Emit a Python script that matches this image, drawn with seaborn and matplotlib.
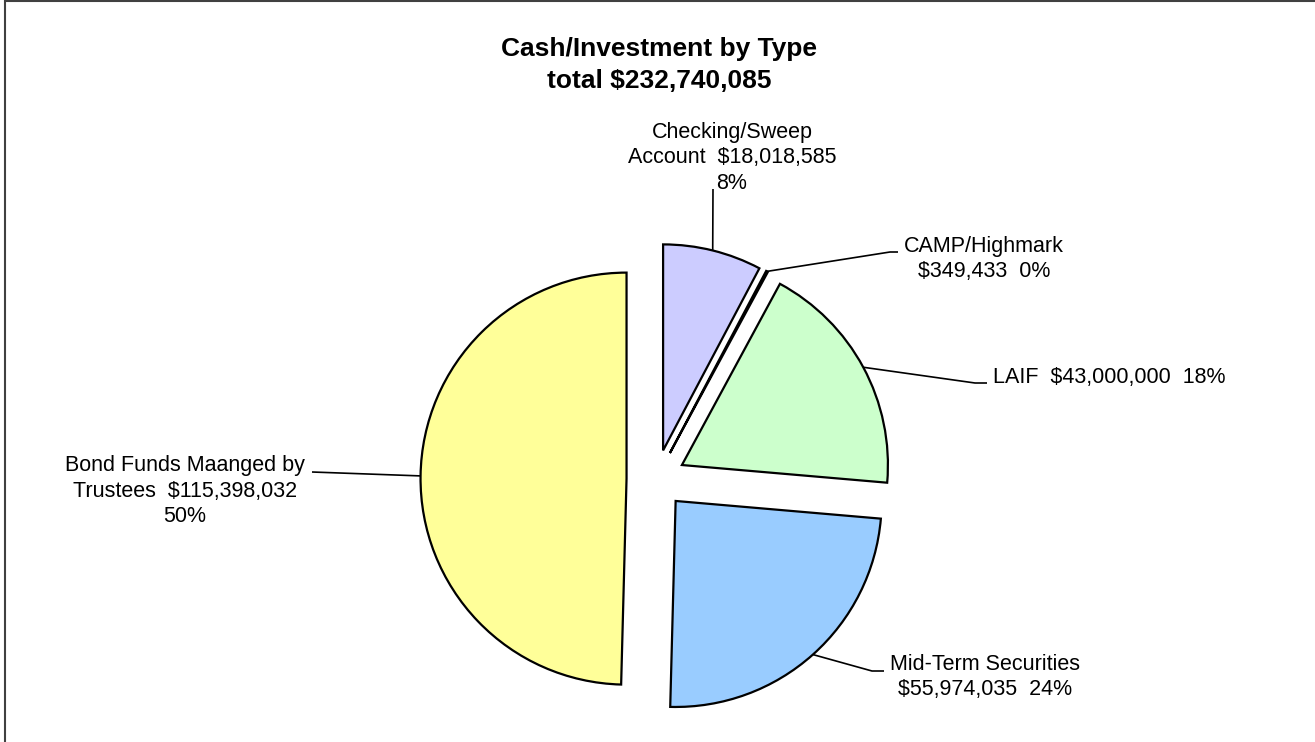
import matplotlib
matplotlib.use("Agg")
import numpy as np
import matplotlib.pyplot as plt
from matplotlib.lines import Line2D
import seaborn as sns

# ======== DATA ========
names = ["Checking/Sweep\nAccount", "CAMP/Highmark", "LAIF",
         "Mid-Term Securities", "Bond Funds Maanged by\nTrustees"]
amounts = [18018585, 349433, 43000000, 55974035, 115398032]
slice_colors = ["#CCCCFF", "#FFFFFF", "#CCFFCC", "#99CCFF", "#FFFF99"]
title_text = "Cash/Investment by Type"

# ======== LAYOUT (pixels in the 1315x742 image) ========
W, H = 1315, 742
CX, CY, R_PX = 656, 479, 206
EXPLODE = 0.143
# separators between name / amount / percent for each label
sep_a = ["  ", "\n", "  ", "\n", "  "]
sep_b = ["\n", "  ", "  ", "  ", "\n"]
# leader line points after the arc point, then text anchor and alignment
leader_pts = [
    [(713, 189)],
    [(890, 252), (898, 252)],
    [(975, 383), (987, 383)],
    [(872, 671), (884, 671)],
    [(312, 472)],
]
text_pos = [(732, 158), (984, 259), (993, 378), (985, 677), (185, 491)]
text_ha = ["center", "center", "left", "center", "center"]


def to_data(x, y):
    return ((x - CX) / R_PX, (CY - y) / R_PX)


sns.set_theme(style="white")
plt.rcParams["font.family"] = ["Liberation Sans", "DejaVu Sans"]

total = sum(amounts)
labels = []
for name, amt, sa, sb in zip(names, amounts, sep_a, sep_b):
    pct = round(100 * amt / total)
    labels.append(f"{name}{sa}${amt:,}{sb}{pct}%")

fig = plt.figure(figsize=(W / 100, H / 100), dpi=100)
ax = fig.add_axes([0, 0, 1, 1])

wedges, _ = ax.pie(
    amounts,
    colors=sns.color_palette(slice_colors),
    startangle=90,
    counterclock=False,
    explode=[EXPLODE] * len(amounts),
    wedgeprops=dict(edgecolor="black", linewidth=1.6),
)
ax.set_xlim(-CX / R_PX, (W - CX) / R_PX)
ax.set_ylim(-(H - CY) / R_PX, CY / R_PX)
ax.set_aspect("auto")
ax.axis("off")

# leader lines start on the arc at the middle of each slice
for w, pts, pos, ha, lab in zip(wedges, leader_pts, text_pos, text_ha, labels):
    tm = np.deg2rad((w.theta1 + w.theta2) / 2)
    x0 = w.center[0] + w.r * np.cos(tm)
    y0 = w.center[1] + w.r * np.sin(tm)
    line = [(x0, y0)] + [to_data(*p) for p in pts]
    xs, ys = zip(*line)
    ax.plot(xs, ys, color="black", lw=1.2, solid_capstyle="butt")
    ax.text(*to_data(*pos), lab, ha=ha, va="center", fontsize=15.5,
            linespacing=1.3, multialignment="center", color="black")

fig.text(659 / W, 1 - 65 / H, f"{title_text}\ntotal ${total:,}",
         ha="center", va="center", fontsize=19, fontweight="bold",
         linespacing=1.42, color="black")

# chart area border (left and top edges visible)
fig.add_artist(Line2D([4.5 / W, 4.5 / W], [0, 1], color="#404040", lw=1.5))
fig.add_artist(Line2D([4.5 / W, 1], [1 - 1 / H, 1 - 1 / H], color="#404040", lw=1.5))

fig.savefig("out.png", dpi=100, facecolor="white")
